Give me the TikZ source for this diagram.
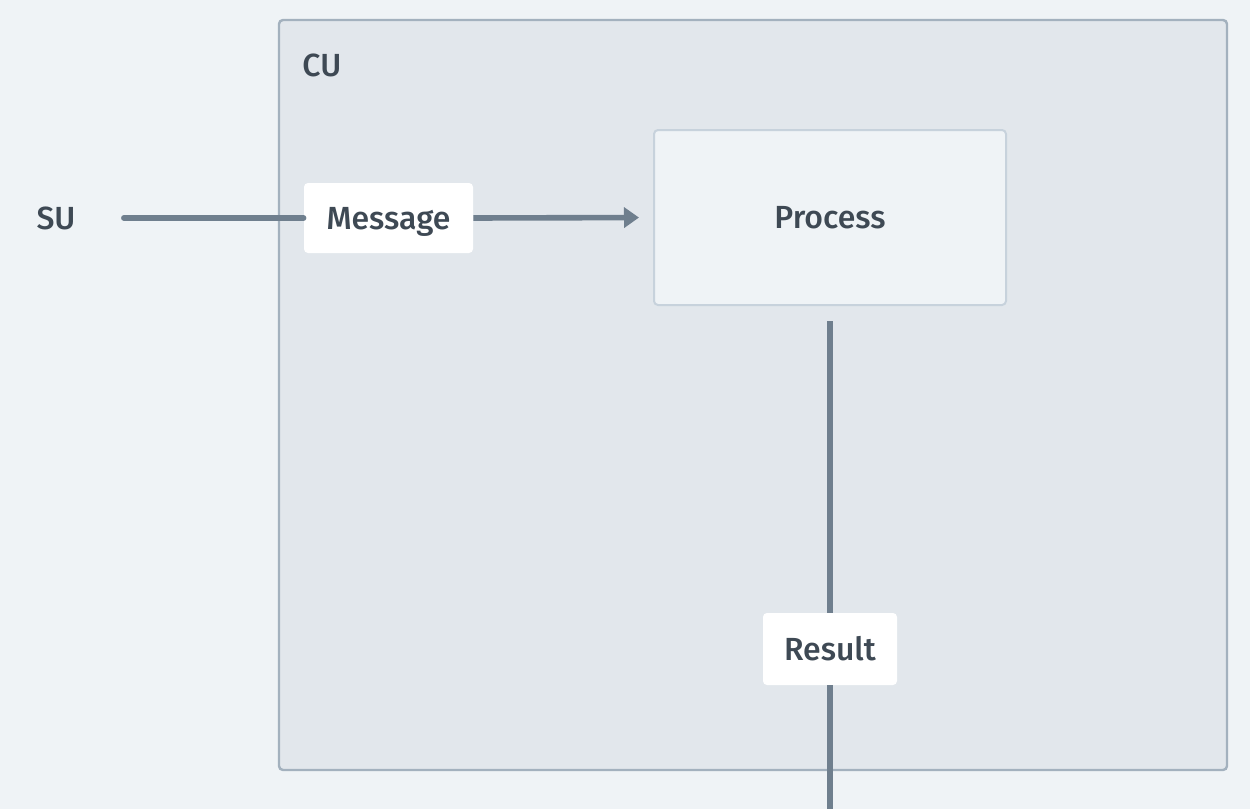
\documentclass[tikz,border=0pt]{standalone}
\usepackage{fontspec}
\setmainfont{Fira Sans}
\newfontfamily\lblfont{Fira Sans Medium}
\usetikzlibrary{arrows.meta}
\definecolor{bgc}{HTML}{EFF3F6}
\definecolor{cuc}{HTML}{E2E7EC}
\definecolor{cuborder}{HTML}{A3B1BE}
\definecolor{procborder}{HTML}{C7D2DC}
\definecolor{linec}{HTML}{6F7F8E}
\definecolor{textc}{HTML}{3E4954}
\tikzset{
  px/.style={x=0.5pt,y=-0.5pt},
  lbl/.style={font=\lblfont\fontsize{16}{19}\selectfont, text=textc, text height=11pt, text depth=0pt},
  tagbox/.style={fill=white, rounded corners=2pt, inner sep=0pt, lbl},
  conn/.style={draw=linec, line width=2.8pt},
}
\begin{document}
\begin{tikzpicture}[px]
\fill[bgc] (0,0) rectangle (1250,809);
\useasboundingbox (0,0) rectangle (1250,809);
% container
\draw[fill=cuc, draw=cuborder, line width=1.2pt, rounded corners=2pt] (279,20) rectangle (1227,770);
\node[lbl, anchor=west, inner sep=0pt] (cu) at (302,65) {CU};
% process
\node[draw=procborder, fill=bgc, line width=1pt, rounded corners=2pt, minimum width=176pt, minimum height=87.5pt, lbl] (proc) at (830,217.5) {Process};
% SU
\node[lbl, inner sep=0pt] (su) at (56,218) {SU};
% message
\node[tagbox, minimum width=84.5pt, minimum height=35pt] (msg) at (388.5,218) {Message};
% result
\node[tagbox, minimum width=67pt, minimum height=36pt] (res) at (830,649) {Result};
\coordinate (bot) at (830,809);
% connectors
\draw[conn, shorten <=24pt, line cap=round] (su.east) -- (msg.west);
\draw[conn, -{Triangle[length=7.5pt,width=10pt]}, shorten >=7pt] (msg.east) -- (proc.west);
\draw[conn, shorten <=7.5pt] (proc.south) -- (res.north);
\draw[conn] (res.south) -- (bot);
\end{tikzpicture}
\end{document}
